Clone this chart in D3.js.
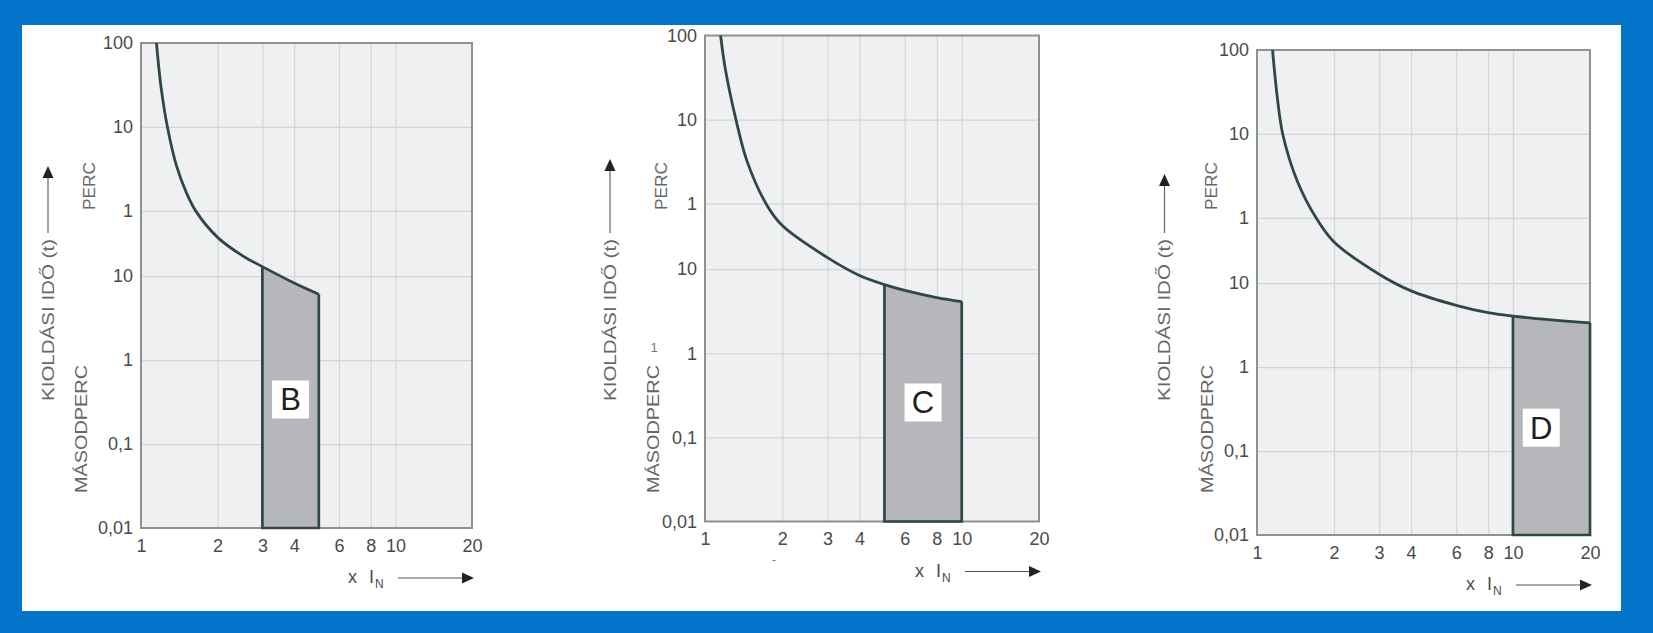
<!DOCTYPE html>
<html><head><meta charset="utf-8">
<script src="https://cdn.jsdelivr.net/npm/d3@7"></script>
<style>
html,body{margin:0;padding:0;background:#0374c9;}
svg{display:block;}
text{font-family:"Liberation Sans",Arial,Helvetica,sans-serif;}
</style></head>
<body>
<svg id="chart" width="1653" height="633"></svg>
<script>
// ---------- data ----------
const xTickValues = [1, 2, 3, 4, 6, 8, 10, 20];
const xTickLabels = ["1", "2", "3", "4", "6", "8", "10", "20"];
const xGridValues = [2, 3, 4, 6, 8, 10];
// trip time in seconds: 100 min, 10 min, 1 min, 10 s, 1 s, 0.1 s, 0.01 s
const yTickValues = [6000, 600, 60, 10, 1, 0.1, 0.01];
const yTickLabels = ["100", "10", "1", "10", "1", "0,1", "0,01"];
const yGridValues = [600, 60, 10, 1, 0.1];

const curveNames = ["B", "C", "D"];
const curveBx = [1.15, 1.2, 1.27, 1.38, 1.51, 1.64, 2, 2.5, 3, 4, 5];
const curveBt = [6000, 1750, 600, 205, 98, 60, 29, 17.6, 13, 8.3, 6.1];
const curveCx = [1.15, 1.2, 1.32, 1.46, 1.74, 2, 3, 4, 5, 6, 8, 10];
const curveCt = [6000, 2400, 600, 190, 58, 33, 13.7, 8.4, 6.55, 5.6, 4.6, 4.12];
const curveDx = [1.15, 1.2, 1.26, 1.44, 1.72, 2, 3, 4, 6, 8, 10, 20];
const curveDt = [6000, 1650, 600, 162, 57, 31, 12.8, 8.1, 5.45, 4.45, 4.05, 3.36];
const bandFrom = [3, 5, 10];
const bandTo = [5, 10, 20];
const labelX = [3.87, 7.07, 12.9];
const labelT = [0.34, 0.26, 0.19];

const yTitle = "KIOLDÁSI IDŐ (t)";
const yUpper = "PERC";
const yLower = "MÁSODPERC";

// ---------- layout ----------
const panels = [
  {left:141, right:472, top:43, bottom:528, titleX:48, arrowTip:166, percX:89, masodX:81},
  {left:705, right:1039, top:35.5, bottom:521.5, titleX:610, arrowTip:159, percX:661, masodX:653},
  {left:1257, right:1590, top:50, bottom:535, titleX:1164.5, arrowTip:174, percX:1211, masodX:1207.5}
];
const curvesX = [curveBx, curveCx, curveDx];
const curvesT = [curveBt, curveCt, curveDt];

const svg = d3.select("#chart");
svg.append("rect").attr("x",0).attr("y",0).attr("width",1653).attr("height",633).attr("fill","#0374c9");
svg.append("rect").attr("x",22).attr("y",25).attr("width",1599).attr("height",586).attr("fill","#ffffff");

const LINE = "#2f4845";
const TXT = "#4a4a4a";
const smooth = d3.curveCatmullRom.alpha(0.5);

panels.forEach((p, i) => {
  const x = d3.scaleLog().domain([1, 20]).range([p.left, p.right]);
  const y = d3.scaleLog().domain([0.01, 6000]).range([p.bottom, p.top]);
  const g = svg.append("g");
  const W = p.right - p.left, H = p.bottom - p.top;

  g.append("rect").attr("x", p.left).attr("y", p.top).attr("width", W).attr("height", H).attr("fill", "#eef0f2");

  // grid
  g.append("g").attr("transform", `translate(0,${p.bottom})`)
    .call(d3.axisBottom(x).tickValues(xGridValues).tickSize(-H).tickFormat(""))
    .call(a => a.select(".domain").remove())
    .call(a => a.selectAll("line").attr("stroke", "#d3d6d9").attr("stroke-width", 1.2));
  g.append("g").attr("transform", `translate(${p.left},0)`)
    .call(d3.axisLeft(y).tickValues(yGridValues).tickSize(-W).tickFormat(""))
    .call(a => a.select(".domain").remove())
    .call(a => a.selectAll("line").attr("stroke", "#d3d6d9").attr("stroke-width", 1.2));

  const pts = curvesX[i].map((v, k) => [v, curvesT[i][k]]);
  const clipId = "clip" + i;
  g.append("clipPath").attr("id", clipId).append("rect")
    .attr("x", x(bandFrom[i])).attr("y", p.top).attr("width", x(bandTo[i]) - x(bandFrom[i])).attr("height", H);
  const area = d3.area().x(d => x(d[0])).y0(p.bottom).y1(d => y(d[1])).curve(smooth);
  g.append("path").datum(pts).attr("d", area).attr("fill", "#b5b7ba").attr("clip-path", `url(#${clipId})`);

  // plot border
  g.append("rect").attr("x", p.left).attr("y", p.top).attr("width", W).attr("height", H)
    .attr("fill", "none").attr("stroke", "#8e9092").attr("stroke-width", 2);

  // band outline
  const t0 = curvesT[i][curvesX[i].indexOf(bandFrom[i])];
  const t1 = curvesT[i][curvesX[i].indexOf(bandTo[i])];
  g.append("path")
    .attr("d", `M${x(bandFrom[i])},${y(t0)}V${y(0.01)}H${x(bandTo[i])}V${y(t1)}`)
    .attr("fill", "none").attr("stroke", LINE).attr("stroke-width", 2.7);

  // curve
  const line = d3.line().x(d => x(d[0])).y(d => y(d[1])).curve(smooth);
  g.append("path").datum(pts).attr("d", line).attr("fill", "none").attr("stroke", LINE)
    .attr("stroke-width", 2.8).attr("stroke-linejoin", "round");

  // label box
  const lx = x(labelX[i]), ly = y(labelT[i]);
  g.append("rect").attr("x", lx - 18.5).attr("y", ly - 19).attr("width", 37).attr("height", 38).attr("fill", "#ffffff");
  g.append("text").attr("x", lx).attr("y", ly + 11).attr("text-anchor", "middle")
    .attr("font-size", 31).attr("fill", "#1e1e1e").text(curveNames[i]);

  // axes
  g.append("g").attr("transform", `translate(${p.left},0)`)
    .call(d3.axisLeft(y).tickValues(yTickValues).tickSize(0).tickPadding(8)
      .tickFormat(d => yTickLabels[yTickValues.indexOf(d)]))
    .call(a => a.select(".domain").remove())
    .call(a => a.selectAll("text").attr("font-size", 18).attr("fill", TXT)
      .attr("font-family", "'Liberation Sans', Arial, sans-serif"));
  g.append("g").attr("transform", `translate(0,${p.bottom})`)
    .call(d3.axisBottom(x).tickValues(xTickValues).tickSize(0).tickPadding(11)
      .tickFormat(d => xTickLabels[xTickValues.indexOf(d)]))
    .call(a => a.select(".domain").remove())
    .call(a => a.selectAll("text").attr("font-size", 18).attr("fill", TXT)
      .attr("font-family", "'Liberation Sans', Arial, sans-serif"));

  // x axis title
  const xt = g.append("text").attr("y", p.bottom + 55).attr("font-size", 18).attr("fill", TXT);
  xt.append("tspan").attr("x", p.right - 124).text("x");
  xt.append("tspan").attr("x", p.right - 103).text("I");
  xt.append("tspan").attr("x", p.right - 97).attr("dy", 5).attr("font-size", 12).text("N");
  const ay = p.bottom + 50;
  g.append("line").attr("x1", p.right - 74).attr("x2", p.right - 6).attr("y1", ay).attr("y2", ay)
    .attr("stroke", "#555").attr("stroke-width", 1.2);
  g.append("path").attr("d", `M${p.right + 2},${ay}L${p.right - 10},${ay - 5.5}L${p.right - 10},${ay + 5.5}Z`).attr("fill", "#222");

  // y titles (rotated)
  const rot = (cx, cy, txt, len, fs, col) => {
    g.append("text").attr("transform", `translate(${cx},${cy}) rotate(-90)`)
      .attr("text-anchor", "middle").attr("dy", "0.35em").attr("font-size", fs).attr("fill", col)
      .attr("textLength", len).attr("lengthAdjust", "spacingAndGlyphs").text(txt);
  };
  rot(p.titleX, 320, yTitle, 162, 16, "#666");
  rot(p.percX, 186, yUpper, 48, 16, "#666");
  rot(p.masodX, 429, yLower, 128, 17, "#666");
  g.append("line").attr("x1", p.titleX).attr("x2", p.titleX).attr("y1", 233).attr("y2", p.arrowTip + 10)
    .attr("stroke", "#666").attr("stroke-width", 1.2);
  g.append("path").attr("d", `M${p.titleX},${p.arrowTip}L${p.titleX - 5.5},${p.arrowTip + 12}L${p.titleX + 5.5},${p.arrowTip + 12}Z`).attr("fill", "#222");
});

// small stray marks visible in the middle panel
svg.append("text").attr("x", 654).attr("y", 352).attr("text-anchor", "middle").attr("font-size", 13).attr("fill", "#777").text("1");
svg.append("text").attr("x", 774).attr("y", 564).attr("text-anchor", "middle").attr("font-size", 12).attr("fill", "#777").text("-");
</script>
</body></html>
